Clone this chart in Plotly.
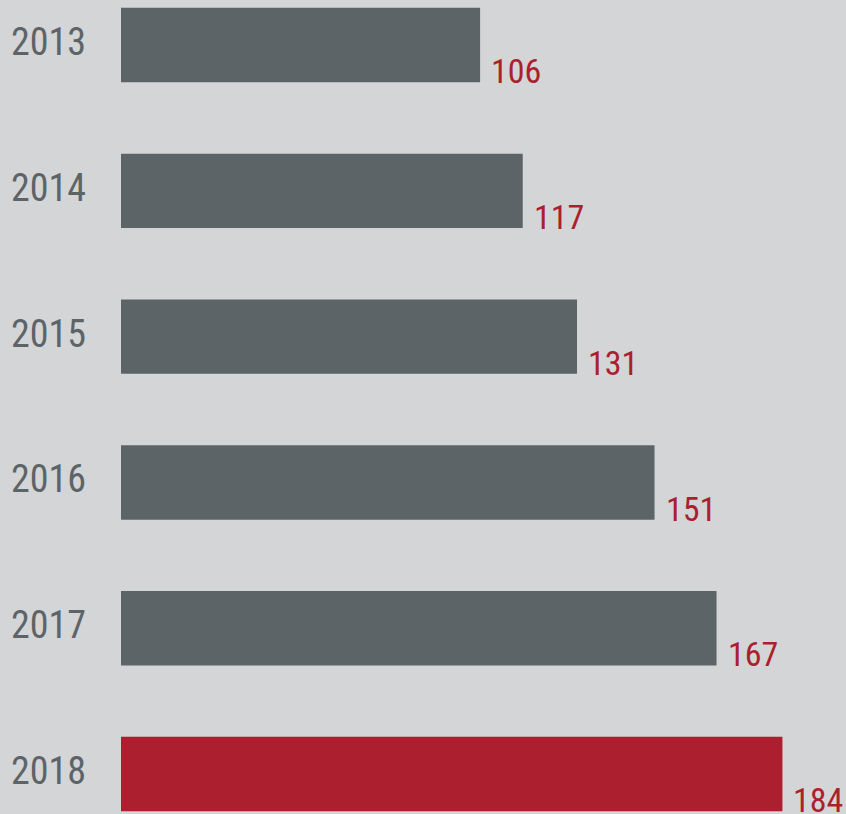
import plotly.graph_objects as go

years = ["2013", "2014", "2015", "2016", "2017", "2018"]
values = [106, 117, 131, 151, 167, 184]
bar_colors = ["#5d6468", "#5d6468", "#5d6468", "#5d6468", "#5d6468", "#ab1f2f"]

BG = "#d4d5d6"
RED = "#ab1f2f"
GREY = "#5d6468"
FONT = "Roboto Condensed, Liberation Sans Narrow, Roboto, sans-serif"

idx = list(range(len(years)))

fig = go.Figure(go.Bar(
    x=values, y=idx, orientation="h",
    marker=dict(color=bar_colors, line=dict(width=0)),
    width=0.51, hoverinfo="skip",
))

for i, v in zip(idx, values):
    fig.add_annotation(
        x=v, y=i + 0.255, text=str(v), showarrow=False,
        xanchor="left", yanchor="bottom", xshift=10, yshift=-10,
        borderpad=0,
        font=dict(family=FONT, size=34, color=RED),
    )

for i, yr in zip(idx, years):
    fig.add_annotation(
        x=0, xref="x domain", y=i, text=yr, showarrow=False,
        xanchor="right", yanchor="middle", xshift=-33, yshift=3,
        font=dict(family=FONT, size=38, color=GREY),
    )

fig.update_layout(
    width=846, height=814,
    margin=dict(l=0, r=0, t=0, b=0),
    paper_bgcolor=BG, plot_bgcolor=BG,
    showlegend=False,
    xaxis=dict(domain=[121 / 846, 1], range=[13.35, 200.4], visible=False, fixedrange=True),
    yaxis=dict(
        range=[5.274, -0.309], showticklabels=False,
        showgrid=False, zeroline=False, showline=False, fixedrange=True,
    ),
)

fig.write_html(
    "out.html",
    config={"displayModeBar": False},
    post_script="document.body.style.margin='0';document.body.style.background='" + BG + "';",
)
